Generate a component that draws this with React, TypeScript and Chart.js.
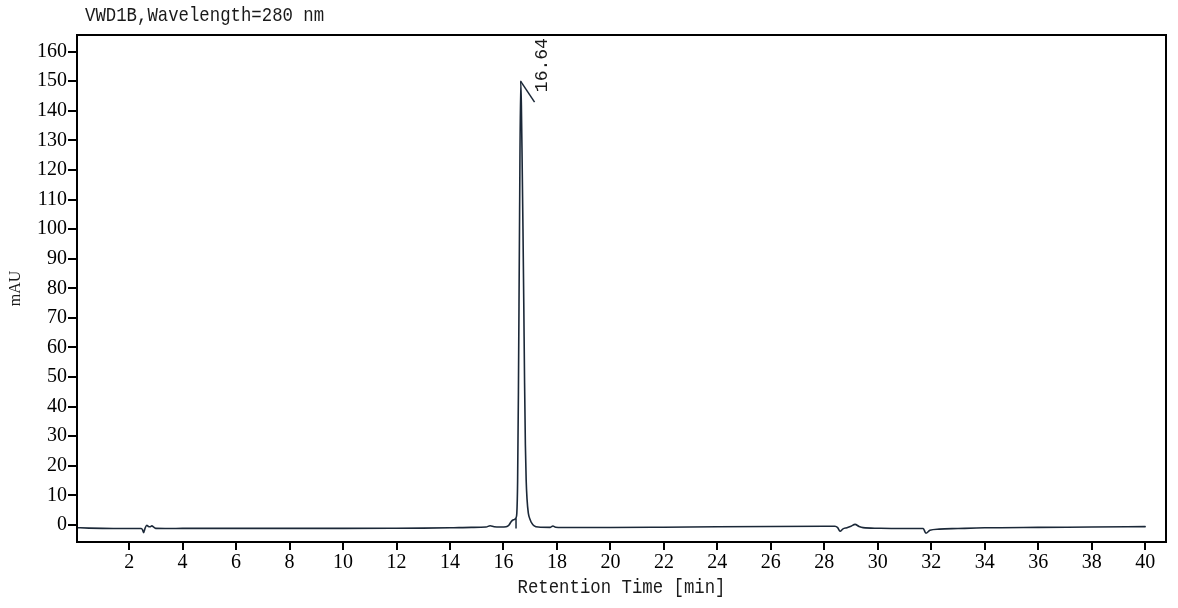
import { useEffect, useRef } from 'react';
import { Chart, registerables } from 'chart.js';
import type { Plugin, Scale } from 'chart.js';

Chart.register(...registerables);

// chromatogram trace (min / mAU)
const retentionTimes = [
  0.0, 0.5, 1.0, 1.5, 2.0, 2.45, 2.5, 2.54, 2.6, 2.66, 2.72, 2.78, 2.85, 2.92, 3.0,
  3.5, 4.0, 6.0, 8.0, 10.0, 12.0, 13.0, 14.0, 14.8, 15.35, 15.5, 15.65, 15.9,
  16.1, 16.2, 16.28, 16.34, 16.42, 16.47, 16.5, 16.53, 16.56, 16.6, 16.645,
  16.67, 16.7, 16.73, 16.76, 16.79, 16.82, 16.85, 16.88, 16.93, 17.0, 17.06,
  17.15, 17.3, 17.75, 17.85, 17.95, 18.5, 20.0, 22.0, 24.0, 26.0, 28.0, 28.4,
  28.5, 28.59, 28.7, 28.84, 29.0, 29.15, 29.3, 29.45, 30.0, 30.8, 31.7, 31.8,
  31.95, 32.3, 33.0, 34.0, 36.0, 38.0, 40.0,
];
const absorbance = [
  -0.9, -1.05, -1.15, -1.2, -1.2, -1.2, -1.6, -2.6, -1.0, -0.1, -0.5, -0.6, -0.3, -0.7, -1.15,
  -1.2, -1.15, -1.15, -1.15, -1.15, -1.1, -1.05, -0.95, -0.8, -0.7, -0.25, -0.6, -0.7,
  -0.6, -0.1, 1.0, 1.6, 1.9, 2.4, 4, 15, 45, 100, 150,
  142, 122, 100, 75, 48, 27, 15, 9, 4, 1.8, 0.6,
  -0.3, -0.7, -0.8, -0.35, -0.75, -0.85, -0.85, -0.75, -0.6, -0.5, -0.45, -0.45,
  -0.9, -2.1, -1.3, -0.9, -0.4, 0.2, -0.5, -0.9, -1.1, -1.2, -1.2, -2.8,
  -1.8, -1.4, -1.2, -0.95, -0.8, -0.7, -0.57,
];

const xTicks = [2, 4, 6, 8, 10, 12, 14, 16, 18, 20, 22, 24, 26, 28, 30, 32, 34, 36, 38, 40];
const yTicks = [0, 10, 20, 30, 40, 50, 60, 70, 80, 90, 100, 110, 120, 130, 140, 150, 160];

const signalTitle = 'VWD1B,Wavelength=280 nm';
const xTitle = 'Retention Time [min]';
const yTitle = 'mAU';
const peakLabel = '16.64';
const peakTime = 16.64;
const peakHeight = 150;
const peakStart = 16.47;

const traceColor = '#1b2838';
const textColor = '#1a1a1a';
const serif = '"Liberation Serif", "Times New Roman", serif';
const mono = '"Liberation Mono", "Courier New", monospace';

// narrow, tall monospace text like the instrument software prints
function narrowText(ctx: CanvasRenderingContext2D, text: string, x: number, y: number, align: CanvasTextAlign) {
  ctx.save();
  ctx.translate(x, y);
  ctx.scale(0.825, 1);
  ctx.font = `21px ${mono}`;
  ctx.fillStyle = textColor;
  ctx.textAlign = align;
  ctx.textBaseline = 'middle';
  ctx.fillText(text, 0, 0);
  ctx.restore();
}

const chromPlugin: Plugin<'line'> = {
  id: 'chrom',
  afterDraw(chart) {
    const { ctx, chartArea: a, scales } = chart;
    const x = scales.x;
    const y = scales.y;
    ctx.save();

    // frame
    ctx.strokeStyle = '#000';
    ctx.lineWidth = 2;
    ctx.strokeRect(a.left, a.top, a.right - a.left, a.bottom - a.top);

    // signal title and x-axis title
    narrowText(ctx, signalTitle, a.left + 8, 15, 'left');
    narrowText(ctx, xTitle, (a.left + a.right) / 2, 587, 'center');

    // peak marks
    const px = x.getPixelForValue(peakTime);
    const py = y.getPixelForValue(peakHeight);
    ctx.strokeStyle = traceColor;
    ctx.lineWidth = 1.5;
    ctx.beginPath();
    ctx.moveTo(px, py);
    ctx.lineTo(px + 14, py + 21);
    ctx.stroke();

    const sx = x.getPixelForValue(peakStart);
    ctx.beginPath();
    ctx.moveTo(sx, y.getPixelForValue(-1.2));
    ctx.lineTo(sx, y.getPixelForValue(2.2));
    ctx.stroke();

    ctx.translate(px + 22, py - 16);
    ctx.rotate(-Math.PI / 2);
    ctx.font = `18px ${mono}`;
    ctx.textAlign = 'center';
    ctx.textBaseline = 'middle';
    ctx.fillStyle = textColor;
    ctx.fillText(peakLabel, 0, 0);
    ctx.restore();
  },
};

export default function App() {
  const ref = useRef<HTMLCanvasElement>(null);

  useEffect(() => {
    if (!ref.current) return;
    const chart = new Chart(ref.current, {
      type: 'line',
      data: {
        datasets: [{
          data:            retentionTimes.map((t, i) => ({ x: t, y: absorbance[i] })),
          borderColor:     traceColor,
          borderWidth:     1.6,
          borderJoinStyle: 'round',
          borderCapStyle:  'round',
          // monotone also keeps Chart.js off its per-pixel fast path, which chops the narrow peak
          cubicInterpolationMode: 'monotone',
          pointRadius:     0,
          fill:            false,
        }],
      },
      options: {
        responsive: false,
        animation:  false,
        layout: { padding: { top: 35, right: 12, left: 0, bottom: 0 } },
        plugins: {
          legend:  { display: false },
          tooltip: { enabled: false },
        },
        scales: {
          x: {
            type: 'linear',
            min: 0.05,
            max: 40.78,
            afterFit: (s: Scale) => { s.height = 66; },
            afterBuildTicks: (s: Scale) => { s.ticks = xTicks.map((v) => ({ value: v })); },
            grid:   { drawOnChartArea: false, drawTicks: true, tickLength: 8, color: '#000', lineWidth: 2 },
            border: { display: false },
            ticks:  { color: '#000', font: { family: serif, size: 20 }, padding: 1, maxRotation: 0, autoSkip: false },
            title:  { display: false },
          },
          y: {
            min: -5.75,
            max: 165.6,
            afterFit: (s: Scale) => { s.width = 77; },
            afterBuildTicks: (s: Scale) => { s.ticks = yTicks.map((v) => ({ value: v })); },
            grid:   { drawOnChartArea: false, drawTicks: true, tickLength: 9, color: '#000', lineWidth: 2 },
            border: { display: false },
            ticks:  { color: '#000', font: { family: serif, size: 20 }, padding: 1, autoSkip: false },
            title:  {
              display: true,
              text:    yTitle,
              color:   textColor,
              font:    { family: serif, size: 16 },
              padding: { top: 6, bottom: 0 },
            },
          },
        },
      },
      plugins: [chromPlugin],
    });
    return () => chart.destroy();
  }, []);

  return (
    <div style={{ position: 'fixed', left: 0, top: 0, width: 1178, height: 608, background: '#fff' }}>
      <canvas ref={ref} width={1178} height={608} style={{ display: 'block' }} />
    </div>
  );
}
